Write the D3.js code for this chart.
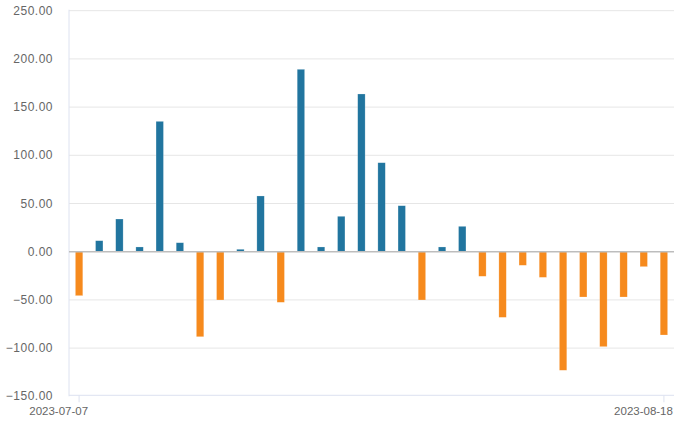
<!DOCTYPE html>
<html>
<head>
<meta charset="utf-8">
<script src="https://cdn.jsdelivr.net/npm/d3@7"></script>
<style>
  body { margin: 0; background: #fff; }
  text { font-family: "Liberation Sans", Arial, sans-serif; fill: #666; }
</style>
</head>
<body>
<svg id="chart" width="687" height="427"></svg>
<script>
// trading days shown on the category axis
var dates = ["2023-07-07","2023-07-10","2023-07-11","2023-07-12","2023-07-13","2023-07-14",
  "2023-07-17","2023-07-18","2023-07-19","2023-07-20","2023-07-21",
  "2023-07-24","2023-07-25","2023-07-26","2023-07-27","2023-07-28",
  "2023-07-31","2023-08-01","2023-08-02","2023-08-03","2023-08-04",
  "2023-08-07","2023-08-08","2023-08-09","2023-08-10",
  "2023-08-14","2023-08-15","2023-08-16","2023-08-17","2023-08-18"];
var values = [-45.6, 11.4, 33.9, 4.9, 135.2, 9.3, -88.2, -50.1, 2.5, 57.8,
  -52.5, 189.2, 4.9, 36.7, 163.6, 92.3, 47.7, -50.1, 4.9, 26.3,
  -25.5, -68.1, -14.1, -26.6, -123.0, -47.0, -98.5, -47.0, -15.5, -86.4];
var yTicks = [-150, -100, -50, 0, 50, 100, 150, 200, 250];
var shownDates = ["2023-07-07", "2023-08-18"];

var svg = d3.select("#chart");
var plotL = 69, plotR = 674, plotT = 10.7, plotB = 396.3;

var x = d3.scaleBand().domain(dates).range([plotL, plotR]).paddingInner(0).paddingOuter(0);
var y = d3.scaleLinear().domain([-150, 250]).range([plotB, plotT]);
var barW = 7.4;

// grid lines
svg.append("g").selectAll("line")
  .data(yTicks.filter(function(d){ return d != 0 && d != -150; }))
  .join("line")
    .attr("x1", plotL).attr("x2", plotR)
    .attr("y1", function(d){ return y(d); }).attr("y2", function(d){ return y(d); })
    .style("stroke", "#e6e6e6");

// y labels
svg.append("g").selectAll("text")
  .data(yTicks)
  .join("text")
    .attr("x", 53)
    .attr("y", function(d){ return y(d) + 4; })
    .attr("text-anchor", "end")
    .style("font-size", "12px")
    .style("letter-spacing", "0.5px")
    .text(function(d){ return d3.format(".2f")(d); });

// axis lines
svg.append("line")
  .attr("x1", plotL).attr("x2", plotL).attr("y1", plotT - 1).attr("y2", y(-150))
  .style("stroke", "#dde2f0");
svg.append("line")
  .attr("x1", plotL).attr("x2", plotR).attr("y1", y(-150) - 1).attr("y2", y(-150) - 1)
  .style("stroke", "#dde2f0");

// x ticks + labels (only ends are labelled)
var xt = svg.append("g").selectAll("g")
  .data(shownDates)
  .join("g")
    .attr("transform", function(d){ return "translate(" + (x(d) + x.bandwidth()/2) + "," + (y(-150) - 1) + ")"; });
xt.append("line").attr("y1", 0).attr("y2", 7).style("stroke", "#dde2f0");
xt.append("text")
  .attr("x", 9).attr("y", 20)
  .attr("text-anchor", "end")
  .style("font-size", "11.5px")
  .text(function(d){ return d; });

// bars
svg.append("g").selectAll("rect")
  .data(values)
  .join("rect")
    .attr("x", function(d, i){ return x(dates[i]) + x.bandwidth()/2 - barW/2; })
    .attr("y", function(d){ return d >= 0 ? y(d) : y(0); })
    .attr("width", barW)
    .attr("height", function(d){ return Math.abs(y(d) - y(0)); })
    .style("fill", function(d){ return d >= 0 ? "#21759f" : "#f68a1d"; })
    .style("stroke", "rgba(255,255,255,0.35)")
    .style("stroke-width", 0.6);

// zero line
svg.append("line")
  .attr("x1", plotL).attr("x2", plotR).attr("y1", y(0)).attr("y2", y(0))
  .style("stroke", "#bdbdbd").style("stroke-width", 1.5);
</script>
</body>
</html>
